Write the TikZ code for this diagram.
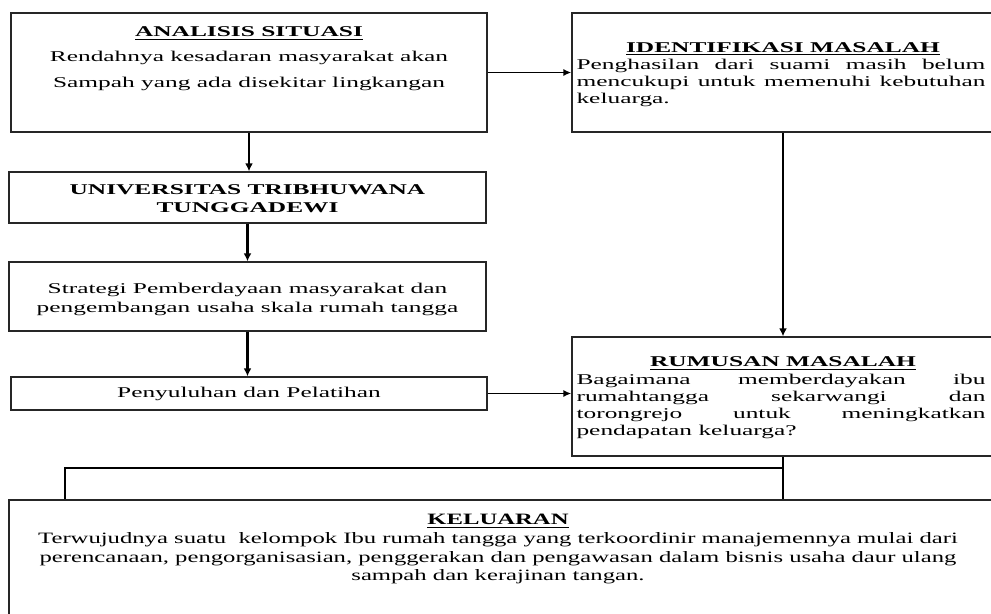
\documentclass[tikz,border=0pt]{standalone}
\usepackage{fontspec}
\setmainfont{Liberation Serif}
\newfontfamily\widefont[FakeStretch=1.7]{Liberation Serif}
\newfontfamily\normfont[FakeStretch=1.56]{Liberation Serif}
\usetikzlibrary{arrows.meta,positioning}

\tikzset{
  box/.style={draw=black!85, line width=0.8pt, inner sep=0pt},
  txt/.style={font=\widefont\fontsize{8.5}{9.7}\selectfont, align=center, inner sep=0pt, anchor=north},
  para/.style={font=\widefont\fontsize{8.5}{9.7}\selectfont, align=justify, text width=8.18cm, inner sep=0pt, anchor=north},
  flow/.style={line width=1.4pt, -{Latex[length=4.5pt,width=4.5pt]}},
  side/.style={line width=0.9pt, -{Latex[length=4.5pt,width=4pt]}},
  link/.style={line width=1.2pt},
}

\begin{document}
\begin{tikzpicture}[x=0.02cm,y=-0.02cm]
\useasboundingbox (0,0) rectangle (991,613);
% Left column boxes
\node[box,minimum width=9.52cm,minimum height=2.38cm] (sit) at (249,72.5) {};
\node[box,minimum width=9.54cm,minimum height=1.02cm] (uni) at (247.5,197.5) {};
\node[box,minimum width=9.54cm,minimum height=1.38cm] (str) at (247.5,296.5) {};
\node[box,minimum width=9.52cm,minimum height=0.66cm] (pen) at (249,393.5) {};
% Right column boxes
\node[box,minimum width=8.44cm,minimum height=2.38cm] (idf) at (783,72.5) {};
\node[box,minimum width=8.44cm,minimum height=2.38cm] (rum) at (783,396.5) {};
% Output box
\node[box,minimum width=19.7cm,minimum height=2.32cm] (kel) at (501.5,558) {};

% Texts
\node[txt,font=\widefont\fontsize{8.5}{14.5}\selectfont] (sittxt) at (249,26)
  {\underline{\textbf{ANALISIS SITUASI}}\\Rendahnya kesadaran masyarakat akan\\Sampah yang ada disekitar lingkangan};
\node[txt,font=\widefont\bfseries\fontsize{8.5}{10.2}\selectfont] (unitxt) at (247.5,184)
  {UNIVERSITAS TRIBHUWANA\\TUNGGADEWI};
\node[txt,font=\widefont\fontsize{8.5}{10.8}\selectfont] (strtxt) at (247.5,283)
  {Strategi Pemberdayaan masyarakat dan\\pengembangan usaha skala rumah tangga};
\node[txt] (pentxt) at (249,387) {Penyuluhan dan Pelatihan};

\node[txt] (idftitle) at (783,42) {\underline{\textbf{IDENTIFIKASI MASALAH}}};
\node[para] (idftxt) at (781,59)
  {Penghasilan dari suami masih belum\linebreak mencukupi untuk memenuhi kebutuhan keluarga.};
\node[txt] (rumtitle) at (783,356) {\underline{\textbf{RUMUSAN MASALAH}}};
\node[para] (rumtxt) at (781,374)
  {Bagaimana memberdayakan ibu\linebreak rumahtangga sekarwangi dan\linebreak torongrejo untuk meningkatkan\linebreak pendapatan keluarga?};

\node[txt,font=\normfont\fontsize{9}{10.6}\selectfont] (keltxt) at (498,514)
  {\underline{\textbf{KELUARAN}}\\Terwujudnya suatu\ \ kelompok Ibu rumah tangga yang terkoordinir manajemennya mulai dari\\perencanaan, pengorganisasian, penggerakan dan pengawasan dalam bisnis usaha daur ulang\\sampah dan kerajinan tangan.};

% Connectors
\draw[side] (sit.east) -- (idf.west);
\draw[flow] (sit.south) -- (sit.south |- uni.north);
\draw[flow] (uni.south) -- (uni.south |- str.north);
\draw[flow] (str.south) -- (str.south |- pen.north);
\draw[flow] (idf.south) -- (rum.north);
\draw[side] (pen.east) -- (pen.east -| rum.west);
\coordinate (split) at (783,468);
\coordinate (drop) at (65,468);
\draw[link] (rum.south) -- (rum.south |- kel.north);
\draw[link] (split) -- (drop) -- (drop |- kel.north);
\end{tikzpicture}
\end{document}
